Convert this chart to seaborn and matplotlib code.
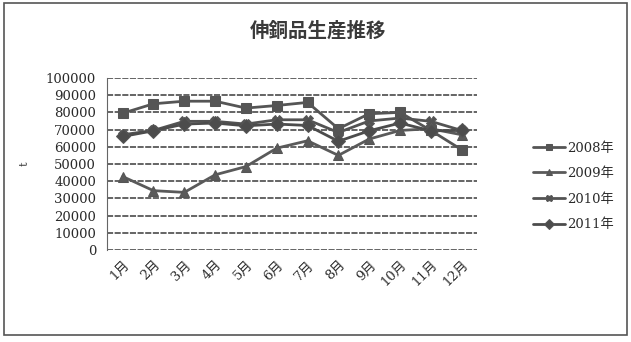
import seaborn as sns
import numpy as np
import pandas as pd
import matplotlib.pyplot as plt
from matplotlib.patches import Rectangle

sns.set_style("white")
plt.rcParams['font.family'] = ['DejaVu Serif', 'Noto Sans CJK JP']

months = ["1月", "2月", "3月", "4月", "5月", "6月", "7月", "8月", "9月", "10月", "11月", "12月"]
years = ["2008年", "2009年", "2010年", "2011年"]
v2008 = [79500, 85000, 86500, 86500, 82500, 84000, 85800, 70500, 79200, 80000, 69500, 58300]
v2009 = [42700, 34500, 33500, 43700, 48500, 59200, 63500, 55000, 64500, 69500, 70500, 67000]
v2010 = [67000, 69500, 74800, 74800, 73200, 75700, 75700, 68300, 75000, 76700, 74800, 69500]
v2011 = [66000, 69300, 73200, 73800, 72200, 73200, 72400, 63200, 69300, 73800, 69300, 69500]

df = pd.DataFrame({
    "month": months * 4,
    "year": np.repeat(years, 12),
    "value": v2008 + v2009 + v2010 + v2011,
})
df["x"] = np.tile(np.arange(12), 4)

fig = plt.figure(figsize=(6.31, 3.42), dpi=100)
ax = fig.add_axes([0.170, 0.269, 0.586, 0.503])

grays = ["#555555", "#5a5a5a", "#535353", "#4c4c4c"]
sns.lineplot(data=df, x="x", y="value", hue="year", style="year",
             palette=grays, markers=["s", "^", "X", "D"], dashes=False,
             markersize=7, linewidth=2.0, markeredgecolor="#555555",
             ax=ax, legend=True)

ax.set_xlim(-0.5, 11.5)
ax.set_ylim(0, 100000)
ax.set_yticks(np.arange(0, 100001, 10000))
ax.set_yticklabels([str(v) for v in range(0, 100001, 10000)], fontsize=9.5, color="#2a2a2a")
ax.set_xticks(np.arange(12))
ax.set_xticklabels(months, rotation=45, fontsize=9.5, color="#2a2a2a",
                   ha="right", rotation_mode="anchor")
ax.tick_params(axis="x", pad=6, length=0)
ax.tick_params(axis="y", length=0, pad=8)
ax.yaxis.grid(True, color="#3a3a3a", linewidth=1.1, linestyle=(0, (4, 1)))
ax.set_axisbelow(True)
for side in ["top", "right", "bottom"]:
    ax.spines[side].set_visible(False)
ax.spines["left"].set_color("#666666")
ax.spines["left"].set_linestyle((0, (2, 1)))
ax.set_xlabel("")
ax.set_ylabel("t", fontsize=8, color="#333333", labelpad=12)

ax.set_title("伸銅品生産推移", fontsize=14, family="Noto Sans CJK JP",
             fontweight="bold", color="#3a3a3a", pad=30, x=0.57)

handles, labels = ax.get_legend_handles_labels()
leg = ax.legend(handles, labels, loc="center left", bbox_to_anchor=(1.12, 0.37),
                frameon=False, fontsize=9.5, handlelength=2.4, labelspacing=0.95,
                handletextpad=0.2, markerscale=0.7)
for t in leg.get_texts():
    t.set_color("#2a2a2a")

fig.patches.append(Rectangle((0.006, 0.02), 0.988, 0.97, transform=fig.transFigure,
                             fill=False, edgecolor="#555555", linewidth=1.2))

fig.savefig("out.png", dpi=100)
